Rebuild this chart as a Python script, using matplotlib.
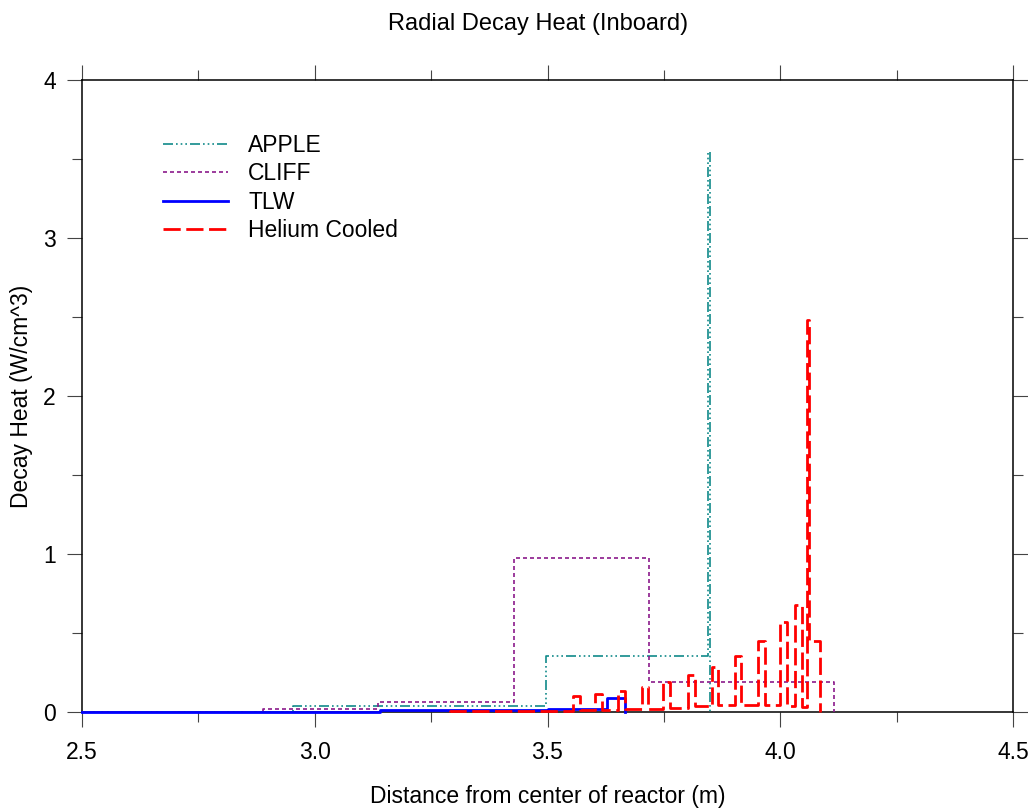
import numpy as np
import matplotlib
matplotlib.use("Agg")
import matplotlib.pyplot as plt
from matplotlib.ticker import MultipleLocator

plt.rcParams['font.family'] = ['Liberation Sans', 'DejaVu Sans']

# step data: bin edges (m) and decay heat in each bin (W/cm^3)
apple_edges = [2.5, 2.954, 3.497, 3.845, 3.849]
apple_vals = [0.0, 0.04, 0.355, 3.546]

cliff_edges = [2.5, 2.889, 3.136, 3.428, 3.717, 4.116]
cliff_vals = [0.0, 0.019, 0.062, 0.975, 0.192]

tlw_edges = [2.5, 3.14, 3.50, 3.628, 3.666]
tlw_vals = [0.0, 0.012, 0.018, 0.088]

he_edges = [3.29, 3.555, 3.570, 3.602, 3.617, 3.651, 3.666, 3.703, 3.716,
            3.748, 3.763, 3.802, 3.817, 3.853, 3.866, 3.903, 3.916, 3.952,
            3.967, 3.999, 4.014, 4.032, 4.047, 4.058, 4.061, 4.085]
he_vals = [0.004, 0.10, 0.012, 0.114, 0.013, 0.133, 0.018, 0.158, 0.022,
           0.19, 0.028, 0.234, 0.04, 0.285, 0.045, 0.354, 0.045, 0.449,
           0.045, 0.57, 0.04, 0.68, 0.03, 2.48, 0.45]


def steps(edges, vals):
    # histogram outline, closed to zero at both ends
    x = np.repeat(np.asarray(edges, float), 2)
    y = np.concatenate([[0.0], np.repeat(np.asarray(vals, float), 2), [0.0]])
    return x, y


fig = plt.figure(figsize=(10.28, 8.09), dpi=100)
ax = fig.add_axes([82/1028, 97/809, 931/1028, 632/809])

x, y = steps(apple_edges, apple_vals)
ax.plot(x, y, color='#108a8a', lw=1.2, zorder=3, clip_on=False,
        linestyle=(0, (6, 1.8, 1, 1.8, 1, 1.8, 1, 1.8)), label='APPLE')
x, y = steps(cliff_edges, cliff_vals)
ax.plot(x, y, color='#8b1a8b', lw=1.2, zorder=3, clip_on=False,
        linestyle=(0, (2.4, 1.8)), label='CLIFF')
x, y = steps(tlw_edges, tlw_vals)
ax.plot(x, y, color='#0000ff', lw=2.0, zorder=3, clip_on=False, label='TLW')
x, y = steps(he_edges, he_vals)
ax.plot(x, y, color='#ff0000', lw=2.0, zorder=3, clip_on=False,
        linestyle=(0, (6.2, 2.0)), label='Helium Cooled')

ax.set_xlim(2.5, 4.5)
ax.set_ylim(0, 4)
ax.xaxis.set_major_locator(MultipleLocator(0.5))
ax.xaxis.set_minor_locator(MultipleLocator(0.25))
ax.yaxis.set_major_locator(MultipleLocator(1))
ax.yaxis.set_minor_locator(MultipleLocator(0.5))
ax.xaxis.set_major_formatter(matplotlib.ticker.FormatStrFormatter('%.1f'))
ax.yaxis.set_major_formatter(matplotlib.ticker.FormatStrFormatter('%d'))

ax.tick_params(which='both', direction='out', top=True, right=True,
               color='#444444', width=0.8, labelsize=16.5)
ax.tick_params(which='major', length=10.8)
ax.tick_params(which='minor', length=7.2)
ax.tick_params(axis='x', pad=10)
ax.tick_params(axis='y', pad=8)
for s in ax.spines.values():
    s.set_linewidth(1.1)

ax.set_xlabel('Distance from center of reactor (m)', fontsize=16.5)
ax.xaxis.set_label_coords(0.5, -0.115)
ax.set_ylabel('Decay Heat (W/cm^3)', fontsize=16.5)
ax.yaxis.set_label_coords(-0.053, 0.5)
ax.set_title('Radial Decay Heat (Inboard)', fontsize=17, x=0.49, y=1.079, pad=0)

ax.legend(loc='upper left', bbox_to_anchor=(0.087, 0.915), frameon=False,
          fontsize=16.5, handlelength=2.84, handletextpad=0.87,
          labelspacing=0.24, borderpad=0, borderaxespad=0)

fig.savefig('out.png', dpi=100)
